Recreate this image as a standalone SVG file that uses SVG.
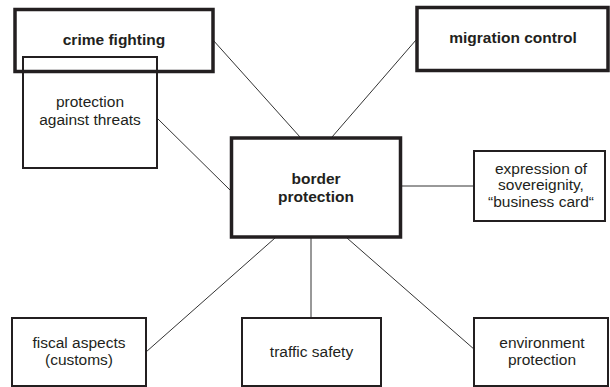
<svg xmlns="http://www.w3.org/2000/svg" width="610" height="387" viewBox="0 0 610 387">
<style>
.thick{fill:none;stroke:#231f20;stroke-width:3.5}
.thin{fill:none;stroke:#231f20;stroke-width:2}
.b{font-family:"Liberation Sans",Arial,sans-serif;font-weight:bold;font-size:15.5px;fill:#231f20;text-anchor:middle}
.r{font-family:"Liberation Sans",Arial,sans-serif;font-size:15.5px;fill:#231f20;text-anchor:middle}
.con line{stroke:#333;stroke-width:1}
</style>
<rect x="0" y="0" width="610" height="387" fill="#fff"/>
<g id="connectors" class="con">
<line x1="213" y1="40" x2="300" y2="137"/>
<line x1="416" y1="40" x2="332" y2="137"/>
<line x1="157" y1="118" x2="230" y2="190"/>
<line x1="402" y1="186" x2="474" y2="186"/>
<line x1="275" y1="238" x2="146" y2="352"/>
<line x1="311" y1="238" x2="311" y2="318" stroke="#555"/>
<line x1="347" y1="238" x2="475" y2="350"/>
</g>
<g id="crime-fighting">
<rect class="thick" x="15" y="9.5" width="198" height="62"/>
<text class="b" x="114" y="45">crime fighting</text>
</g>
<g id="protection-against-threats">
<rect class="thin" x="23" y="57" width="134" height="111"/>
<text class="r" x="90" y="107">protection</text>
<text class="r" x="90" y="125">against threats</text>
</g>
<g id="migration-control">
<rect class="thick" x="417" y="7.5" width="191" height="63"/>
<text class="b" x="513" y="43">migration control</text>
</g>
<g id="border-protection">
<rect class="thick" x="231.5" y="138" width="169" height="99"/>
<text class="b" x="316" y="184">border</text>
<text class="b" x="316" y="202">protection</text>
</g>
<g id="expression-of-sovereignity">
<rect class="thin" x="474" y="151" width="131" height="70"/>
<text class="r" x="541" y="174">expression of</text>
<text class="r" x="541" y="190">sovereignity,</text>
<text class="r" x="541" y="207">“business card“</text>
</g>
<g id="fiscal-aspects">
<rect class="thin" x="12" y="318" width="134" height="68"/>
<text class="r" x="79" y="348">fiscal aspects</text>
<text class="r" x="79" y="365">(customs)</text>
</g>
<g id="traffic-safety">
<rect class="thin" x="242" y="318" width="139" height="68"/>
<text class="r" x="311.5" y="357">traffic safety</text>
</g>
<g id="environment-protection">
<rect class="thin" x="474" y="318" width="134" height="68"/>
<text class="r" x="542" y="348">environment</text>
<text class="r" x="542" y="365">protection</text>
</g>
</svg>
